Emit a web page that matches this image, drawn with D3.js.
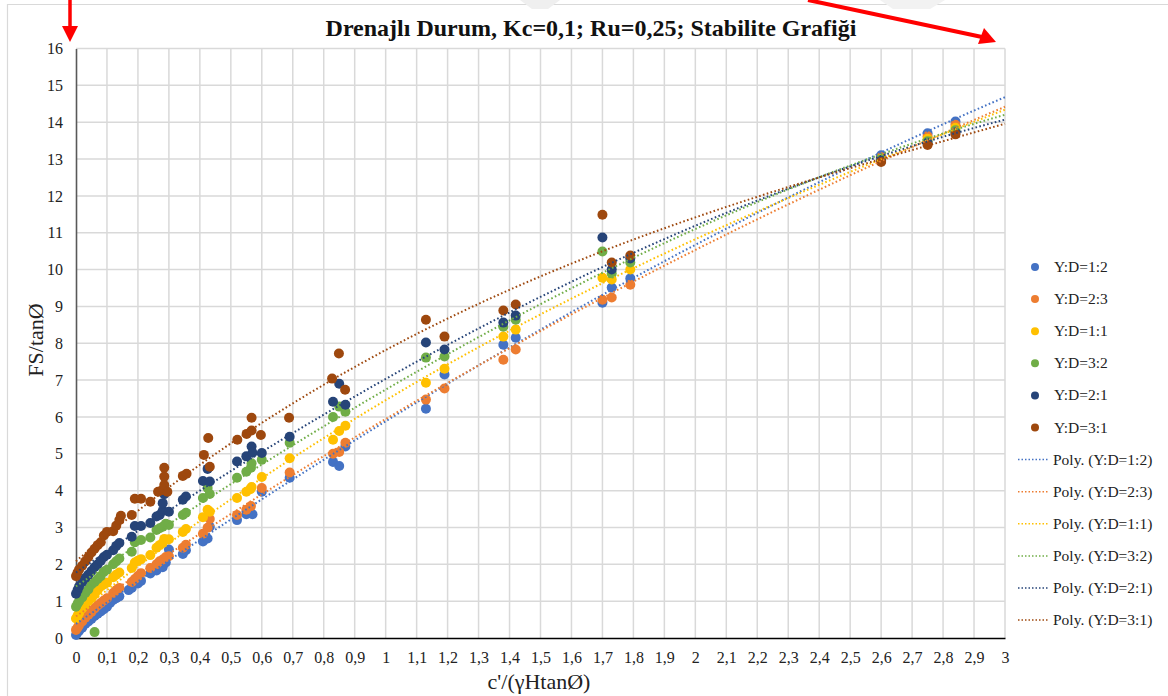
<!DOCTYPE html>
<html><head><meta charset="utf-8">
<script src="https://cdn.jsdelivr.net/npm/d3@7"></script>
<style>body{margin:0;background:#fff}svg{display:block}svg text{font-family:"Liberation Serif","Times New Roman",Times,serif}</style>
</head><body><svg id="c" width="1168" height="696"></svg>
<script>
const titleText = "Drenajlı Durum, Kc=0,1; Ru=0,25; Stabilite Grafiği";
const xTitle = "c'/(γHtanØ)";
const yTitle = "FS/tanØ";
const seriesNames = ["Y:D=1:2","Y:D=2:3","Y:D=1:1","Y:D=3:2","Y:D=2:1","Y:D=3:1"];
const seriesColors = ["#4472C4","#ED7D31","#FFC000","#70AD47","#264478","#9E480E"];
const xTicks = d3.range(0, 31).map(i => i / 10);
const yTicks = d3.range(0, 17);

const dataYD12 = [[0,0.08],[0.005,0.15],[0.01,0.2],[0.02,0.28],[0.03,0.38],[0.04,0.45],[0.05,0.52],[0.06,0.6],[0.07,0.66],[0.08,0.72],[0.09,0.78],[0.1,0.85],[0.11,0.95],[0.12,1.03],[0.13,1.08],[0.14,1.13],[0.17,1.3],[0.18,1.36],[0.2,1.48],[0.21,1.55],[0.24,1.75],[0.26,1.83],[0.28,1.92],[0.29,2.05],[0.3,2.4],[0.345,2.28],[0.355,2.38],[0.41,2.62],[0.425,2.7],[0.432,3.02],[0.52,3.2],[0.55,3.36],[0.57,3.36],[0.6,3.97],[0.69,4.35],[0.83,4.78],[0.85,4.67],[0.87,5.2],[1.13,6.22],[1.19,7.15],[1.38,7.96],[1.42,8.15],[1.7,9.1],[1.73,9.51],[1.79,9.76],[2.6,13.1],[2.75,13.7],[2.84,14.02]];
const dataYD23 = [[0,0.22],[0.005,0.28],[0.01,0.35],[0.02,0.45],[0.03,0.55],[0.04,0.63],[0.05,0.71],[0.06,0.8],[0.07,0.88],[0.08,0.95],[0.09,1.02],[0.1,1.08],[0.12,1.22],[0.13,1.3],[0.14,1.36],[0.18,1.52],[0.19,1.6],[0.2,1.68],[0.21,1.76],[0.24,1.9],[0.26,2.0],[0.27,2.08],[0.28,2.13],[0.29,2.2],[0.3,2.22],[0.345,2.45],[0.355,2.53],[0.41,2.83],[0.425,2.99],[0.432,3.23],[0.52,3.34],[0.55,3.48],[0.565,3.58],[0.6,4.07],[0.69,4.49],[0.83,5.0],[0.85,5.05],[0.87,5.3],[1.13,6.47],[1.19,6.77],[1.38,7.55],[1.42,7.83],[1.7,9.18],[1.73,9.24],[1.79,9.59],[2.6,13.05],[2.75,13.62],[2.84,13.93]];
const dataYD11 = [[0,0.53],[0.005,0.6],[0.01,0.68],[0.02,0.8],[0.03,0.9],[0.04,1.0],[0.05,1.08],[0.06,1.18],[0.07,1.3],[0.08,1.4],[0.09,1.45],[0.1,1.5],[0.12,1.65],[0.13,1.72],[0.14,1.78],[0.18,1.9],[0.19,2.05],[0.2,2.1],[0.21,2.14],[0.24,2.25],[0.26,2.45],[0.27,2.52],[0.28,2.58],[0.285,2.69],[0.3,2.68],[0.345,2.88],[0.355,2.96],[0.41,3.28],[0.425,3.48],[0.432,3.43],[0.52,3.8],[0.55,3.97],[0.563,4.04],[0.567,4.1],[0.6,4.37],[0.69,4.88],[0.83,5.38],[0.85,5.62],[0.87,5.76],[1.13,6.93],[1.19,7.31],[1.38,8.18],[1.42,8.37],[1.7,9.78],[1.73,9.73],[1.79,10.0],[2.6,13.0],[2.75,13.55],[2.84,13.85]];
const dataYD32 = [[0,0.85],[0.005,0.93],[0.01,1.0],[0.02,1.1],[0.03,1.22],[0.04,1.32],[0.05,1.45],[0.06,1.52],[0.07,1.6],[0.08,1.68],[0.09,1.8],[0.1,1.85],[0.12,2.0],[0.13,2.08],[0.14,2.16],[0.18,2.34],[0.19,2.6],[0.21,2.66],[0.24,2.73],[0.26,2.93],[0.27,2.98],[0.28,3.02],[0.29,3.1],[0.3,3.07],[0.345,3.34],[0.355,3.4],[0.41,3.8],[0.425,4.07],[0.432,3.91],[0.52,4.35],[0.55,4.51],[0.565,4.62],[0.567,4.74],[0.6,4.84],[0.69,5.3],[0.83,6.0],[0.85,6.28],[0.87,6.14],[1.13,7.61],[1.19,7.64],[1.38,8.45],[1.42,8.64],[1.7,10.49],[1.73,9.89],[1.79,10.19],[2.6,12.98],[2.75,13.48],[2.84,13.78],[0.06,0.16]];
const dataYD21 = [[0,1.2],[0.005,1.3],[0.01,1.4],[0.02,1.52],[0.03,1.63],[0.04,1.72],[0.05,1.82],[0.06,1.92],[0.07,2.0],[0.08,2.1],[0.09,2.2],[0.1,2.26],[0.12,2.38],[0.13,2.5],[0.14,2.58],[0.18,2.75],[0.19,3.04],[0.21,3.04],[0.24,3.12],[0.26,3.3],[0.27,3.34],[0.28,3.45],[0.28,3.66],[0.285,3.9],[0.3,3.43],[0.345,3.75],[0.355,3.84],[0.41,4.26],[0.425,4.59],[0.432,4.25],[0.52,4.79],[0.55,4.93],[0.567,5.2],[0.57,5.03],[0.6,5.02],[0.69,5.46],[0.83,6.41],[0.85,6.9],[0.87,6.33],[1.13,8.02],[1.19,7.83],[1.38,8.56],[1.42,8.75],[1.7,10.87],[1.73,10.0],[1.79,10.3],[2.6,12.95],[2.75,13.44],[2.84,13.72]];
const dataYD31 = [[0,1.68],[0.005,1.78],[0.01,1.86],[0.02,1.96],[0.03,2.08],[0.04,2.2],[0.05,2.32],[0.06,2.42],[0.07,2.52],[0.08,2.6],[0.09,2.78],[0.1,2.88],[0.12,2.9],[0.13,3.05],[0.14,3.2],[0.145,3.32],[0.18,3.34],[0.19,3.78],[0.21,3.78],[0.24,3.7],[0.265,3.97],[0.28,4.02],[0.285,4.15],[0.285,4.38],[0.285,4.62],[0.295,3.97],[0.345,4.4],[0.357,4.46],[0.413,4.97],[0.427,5.43],[0.432,4.65],[0.521,5.38],[0.551,5.54],[0.567,5.63],[0.567,5.98],[0.597,5.51],[0.688,5.98],[0.827,7.04],[0.849,7.72],[0.869,6.74],[1.13,8.64],[1.19,8.18],[1.38,8.89],[1.42,9.05],[1.7,11.49],[1.73,10.19],[1.79,10.38],[2.6,12.92],[2.75,13.38],[2.84,13.67]];
const allData = [dataYD12, dataYD23, dataYD11, dataYD32, dataYD21, dataYD31];

// polynomial trendline coefficients (c0 + c1·x + c2·x² + c3·x³)
const trendYD12 = [0.3842, 5.8279, -0.3180, -0.0121];
const trendYD23 = [0.5894, 5.7601, -0.4164, 0.0110];
const trendYD11 = [0.6360, 6.7426, -1.0237, 0.0996];
const trendYD32 = [1.4006, 5.7435, -0.3557, -0.0455];
const trendYD21 = [1.7790, 5.7383, -0.4557, -0.0305];
const trendYD31 = [2.0852, 7.1509, -1.5998, 0.1785];
const allTrends = [trendYD12, trendYD23, trendYD11, trendYD32, trendYD21, trendYD31];
const trendRange = [0, 3];

const svg = d3.select("#c");
const FONT = '"Liberation Serif","Times New Roman",Times,serif';
const M = {l:76, r:1005, t:48.5, b:638};
const x = d3.scaleLinear().domain([0,3]).range([M.l, M.r]);
const y = d3.scaleLinear().domain([0,16]).range([M.b, M.t]);
const fmt = v => String(+v.toFixed(1)).replace(".", ",");

svg.append("path").attr("d","M7.5,700 V4.5 H1170").attr("fill","none").attr("stroke","#D9D9D9").attr("stroke-width",1.2);
svg.append("path").attr("d","M520,0 L560,0 L548,9 L532,9 Z").attr("fill","#EFEFEF");
svg.append("path").attr("d","M880,0 L945,0 L930,9 L893,9 Z").attr("fill","#F2F2F2");

const g = svg.append("g");
g.selectAll(".vg").data(xTicks.slice(1)).join("line")
  .attr("x1", d=>x(d)).attr("x2", d=>x(d)).attr("y1", M.t).attr("y2", M.b)
  .attr("stroke","#D9D9D9").attr("stroke-width",1.5);
g.selectAll(".hg").data(yTicks.slice(1)).join("line")
  .attr("x1", M.l).attr("x2", M.r).attr("y1", d=>y(d)).attr("y2", d=>y(d))
  .attr("stroke","#D9D9D9").attr("stroke-width",1.5);

const xAxis = d3.axisBottom(x).tickValues(xTicks).tickFormat(fmt).tickSize(0).tickPadding(13.5);
const gx = svg.append("g").attr("transform",`translate(0,${M.b})`).call(xAxis).attr("font-family",FONT);
gx.select(".domain").attr("stroke","#000").attr("stroke-width",1.6);
gx.selectAll("text").attr("font-size",16).attr("fill","#222");
const yAxis = d3.axisLeft(y).tickValues(yTicks).tickFormat(d=>d).tickSize(0).tickPadding(13);
const gy = svg.append("g").attr("transform",`translate(${M.l},0)`).call(yAxis).attr("font-family",FONT);
gy.select(".domain").attr("stroke","#595959").attr("stroke-width",1.6);
gy.selectAll("text").attr("font-size",16).attr("fill","#222");

allData.forEach((ds, i) => {
  svg.append("g").selectAll("circle").data(ds).join("circle")
    .attr("cx", d=>x(d[0])).attr("cy", d=>y(d[1])).attr("r",5)
    .attr("fill", seriesColors[i]);
});

allTrends.forEach((c, i) => {
  const f = t => c.reduce((s,ci,k)=>s+ci*Math.pow(t,k),0);
  const xs = d3.range(trendRange[0], trendRange[1] + 1e-9, 0.02);
  const line = d3.line().x(d=>x(d)).y(d=>y(f(d)));
  svg.append("path").datum(xs).attr("d", line).attr("fill","none")
    .attr("stroke", seriesColors[i]).attr("stroke-width",2)
    .attr("stroke-dasharray","1.6,2.4");
});

svg.append("text").attr("x",591).attr("y",36).attr("text-anchor","middle")
  .attr("font-size",24).attr("font-weight","bold").attr("fill","#111").text(titleText);
svg.append("text").attr("x",539).attr("y",689).attr("text-anchor","middle")
  .attr("font-size",22).attr("fill","#222").text(xTitle);
svg.append("text").attr("transform","translate(43,340) rotate(-90)").attr("text-anchor","middle")
  .attr("font-size",22).attr("fill","#222").text(yTitle);

const lg = svg.append("g");
const rowY = i => 267 + i*32.1;
seriesNames.forEach((n,i)=>{
  lg.append("circle").attr("cx",1035).attr("cy",rowY(i)).attr("r",4).attr("fill",seriesColors[i]);
  lg.append("text").attr("x",1054).attr("y",rowY(i)+5).attr("font-size",15.5).attr("fill","#222").text(n);
});
seriesNames.forEach((n,i)=>{
  const yy = rowY(i+6);
  lg.append("line").attr("x1",1018).attr("x2",1048).attr("y1",yy).attr("y2",yy)
    .attr("stroke",seriesColors[i]).attr("stroke-width",1.5).attr("stroke-dasharray","1.5,2");
  lg.append("text").attr("x",1053).attr("y",yy+5).attr("font-size",15.5).attr("fill","#222").text(`Poly. (${n})`);
});

const red = "#FF0000";
svg.append("line").attr("x1",70).attr("y1",0).attr("x2",70).attr("y2",28).attr("stroke",red).attr("stroke-width",3.5);
svg.append("path").attr("d","M62,26 L78,26 L70,42 Z").attr("fill",red);
svg.append("line").attr("x1",808).attr("y1",0).attr("x2",982).attr("y2",37).attr("stroke",red).attr("stroke-width",4);
svg.append("path").attr("d","M996,42 L978,44 L984,28 Z").attr("fill",red);
</script></body></html>
